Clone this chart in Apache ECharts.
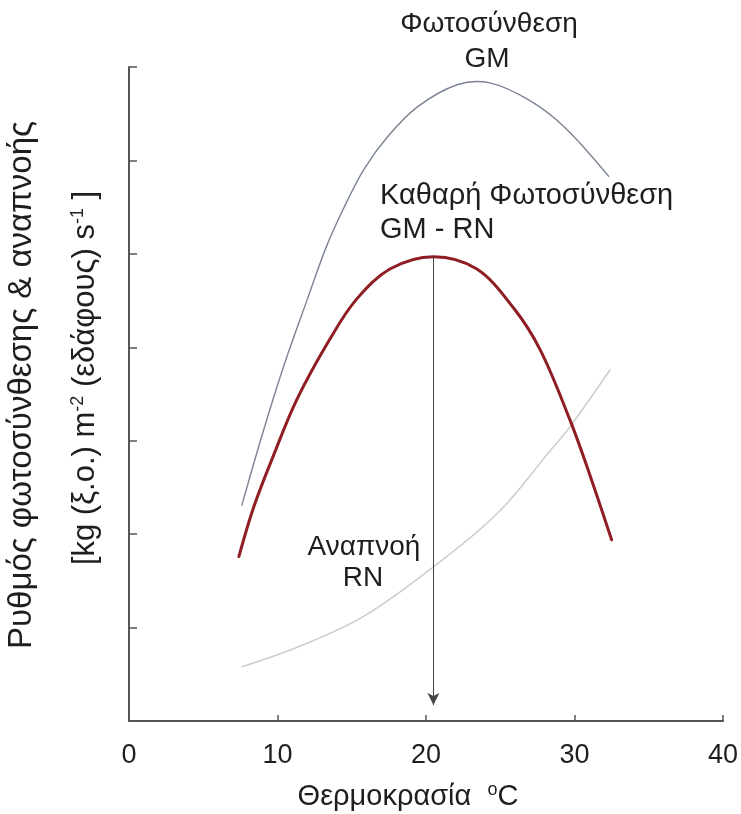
<!DOCTYPE html>
<html>
<head>
<meta charset="utf-8">
<script src="https://cdn.jsdelivr.net/npm/echarts@6/dist/echarts.min.js"></script>
<style>
  html, body { margin: 0; padding: 0; background: #ffffff; }
  #chart { width: 741px; height: 814px; }
</style>
</head>
<body>
<div id="chart"></div>
<script>
// Gross photosynthesis GM: temperature (°C) and rate
const gmTemp = [7.6, 9.0, 10.4, 12.0, 13.3, 14.4, 15.8, 17.4, 19.4, 22.1, 24.3, 27.0, 29.3, 32.3];
const gmRate = [2.31, 3.08, 3.79, 4.51, 5.08, 5.47, 5.90, 6.25, 6.57, 6.81, 6.83, 6.64, 6.36, 5.83];

// Net photosynthesis GM - RN
const netTemp = [7.4, 8.4, 9.7, 11.3, 13.5, 15.3, 17.6, 20.5, 23.4, 25.9, 27.7, 29.7, 31.0, 32.5];
const netRate = [1.76, 2.29, 2.83, 3.44, 4.08, 4.51, 4.84, 4.97, 4.84, 4.42, 3.97, 3.22, 2.65, 1.94];

// Respiration RN
const rnTemp = [7.6, 11.5, 15.8, 20.5, 24.8, 28.4, 29.7, 32.4];
const rnRate = [0.58, 0.80, 1.12, 1.65, 2.22, 2.90, 3.15, 3.76];

// Optimum temperature of net photosynthesis and the arrow's lower end
const optimumTemp = 20.5;
const optimumRate = 4.97;
const arrowEnd = 0.17;

const xTicks = [0, 10, 20, 30, 40];

const pairs = (xs, ys) => xs.map((x, i) => [x, ys[i]]);

const FONT = '"Liberation Sans", Arial, sans-serif';
const TXT = '#1e1e1e';

// A curve drawn as one spline through all of its points, placed with the axes' scales
function curveSeries(name, xs, ys, color, width, z) {
  const pts = pairs(xs, ys);
  return {
    name: name,
    type: 'custom',
    coordinateSystem: 'cartesian2d',
    data: pts,
    encode: { x: 0, y: 1 },
    z: z || 2,
    silent: true,
    renderItem: function (params, api) {
      if (params.dataIndex !== 0) return null;
      return {
        type: 'polyline',
        shape: { points: pts.map(p => api.coord(p)), smooth: 0.35 },
        style: { stroke: color, lineWidth: width, fill: null, lineCap: 'round', lineJoin: 'round' }
      };
    }
  };
}

function label(text, x, y, size, align) {
  return {
    type: 'text', x: x, y: y,
    style: { text: text, align: align || 'center', verticalAlign: 'middle',
             font: size + 'px ' + FONT, fill: TXT }
  };
}

const chart = echarts.init(document.getElementById('chart'), null, { renderer: 'canvas' });

chart.setOption({
  backgroundColor: '#ffffff',
  animation: false,
  grid: { left: 129, right: 18, top: 67, bottom: 93 },
  xAxis: {
    type: 'value',
    min: xTicks[0],
    max: xTicks[xTicks.length - 1],
    interval: 10,
    splitLine: { show: false },
    axisLine: { lineStyle: { color: '#555', width: 2 } },
    axisTick: { inside: true, length: 6, lineStyle: { color: '#555', width: 1.5 } },
    axisLabel: { fontFamily: FONT, fontSize: 27, color: TXT, margin: 21 }
  },
  yAxis: {
    type: 'value',
    min: 0,
    max: 7,
    interval: 1,
    splitLine: { show: false },
    axisLine: { show: true, lineStyle: { color: '#555', width: 2 } },
    axisTick: { show: true, inside: true, length: 8, lineStyle: { color: '#555', width: 1.5 } },
    axisLabel: { show: false }
  },
  series: [
    curveSeries('GM', gmTemp, gmRate, '#7b8494', 1.4, 2),
    curveSeries('RN', rnTemp, rnRate, '#cdcdcd', 1.5, 2),
    curveSeries('GM - RN', netTemp, netRate, '#8f1d24', 3, 3),
    {
      // Arrow from the net-photosynthesis optimum down to the temperature axis
      name: 'optimum',
      type: 'line',
      data: [[optimumTemp, optimumRate], [optimumTemp, arrowEnd]],
      showSymbol: false,
      silent: true,
      lineStyle: { opacity: 0 },
      z: 4,
      markLine: {
        silent: true,
        label: { show: false },
        lineStyle: { color: '#444', width: 1, type: 'solid' },
        data: [[
          { coord: [optimumTemp, optimumRate], symbol: 'none' },
          { coord: [optimumTemp, arrowEnd], symbol: 'arrow', symbolSize: [9, 12] }
        ]]
      }
    }
  ],
  graphic: [
    label('Φωτοσύνθεση', 489, 24, 28),
    label('GM', 487, 59, 28),
    label('Καθαρή Φωτοσύνθεση', 380, 196, 29, 'left'),
    label('GM - RN', 380, 230, 29, 'left'),
    label('Αναπνοή', 364, 547, 28),
    label('RN', 363, 578, 28),
    {
      type: 'text', x: 408, y: 797,
      style: {
        text: '{a|Θερμοκρασία  }{s|o}{a|C}',
        align: 'center', verticalAlign: 'middle', fill: TXT,
        rich: {
          a: { fontFamily: FONT, fontSize: 29, color: TXT },
          s: { fontFamily: FONT, fontSize: 18, color: TXT, padding: [0, 0, 14, 0] }
        }
      }
    },
    {
      type: 'text', x: 22, y: 385, rotation: Math.PI / 2,
      style: { text: 'Ρυθμός φωτοσύνθεσης & αναπνοής', align: 'center', verticalAlign: 'middle',
               font: '33px ' + FONT, fill: TXT }
    },
    {
      type: 'text', x: 85, y: 378, rotation: Math.PI / 2,
      style: {
        text: '{a|[kg (ξ.ο.) m}{s|-2}{a| (εδάφους) s}{s|-1}{a| ]}',
        align: 'center', verticalAlign: 'middle', fill: TXT,
        rich: {
          a: { fontFamily: FONT, fontSize: 31, color: TXT },
          s: { fontFamily: FONT, fontSize: 18, color: TXT, padding: [0, 0, 14, 0] }
        }
      }
    }
  ]
});
</script>
</body>
</html>
